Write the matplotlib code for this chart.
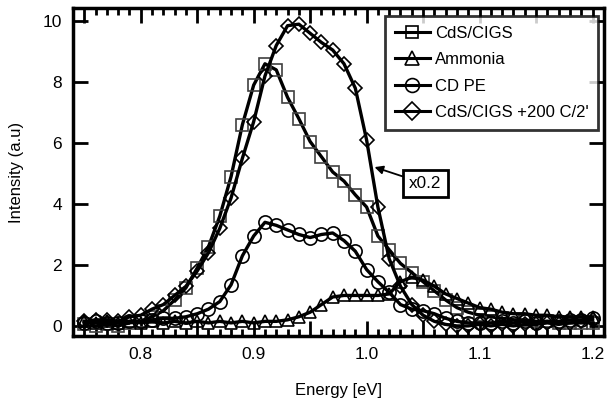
import numpy as np
import matplotlib
matplotlib.use("Agg")
import matplotlib.pyplot as plt
from matplotlib.ticker import MultipleLocator, FuncFormatter

plt.rcParams['font.family'] = ['Liberation Sans', 'DejaVu Sans']

# photon energy grid (eV)
energy = [0.75, 0.76, 0.77, 0.78, 0.79, 0.80, 0.81, 0.82, 0.83, 0.84,
          0.85, 0.86, 0.87, 0.88, 0.89, 0.90, 0.91, 0.92, 0.93, 0.94,
          0.95, 0.96, 0.97, 0.98, 0.99, 1.00, 1.01, 1.02, 1.03, 1.04,
          1.05, 1.06, 1.07, 1.08, 1.09, 1.10, 1.11, 1.12, 1.13, 1.14,
          1.15, 1.16, 1.17, 1.18, 1.19, 1.20]

cds_cigs = [0.05, 0.0, 0.05, 0.0, 0.1, 0.15, 0.3, 0.5, 0.85, 1.25,
            1.9, 2.6, 3.6, 4.9, 6.6, 7.9, 8.6, 8.4, 7.5, 6.8,
            6.05, 5.55, 5.05, 4.75, 4.3, 3.9, 2.95, 2.5, 2.05, 1.75,
            1.45, 1.15, 0.85, 0.6, 0.45, 0.35, 0.3, 0.25, 0.2, 0.2,
            0.15, 0.15, 0.1, 0.1, 0.1, 0.1]

ammonia = [0.15, 0.1, 0.15, 0.1, 0.15, 0.1, 0.15, 0.1, 0.15, 0.1,
           0.15, 0.1, 0.15, 0.1, 0.15, 0.1, 0.15, 0.15, 0.2, 0.3,
           0.45, 0.7, 0.95, 1.0, 1.0, 1.0, 1.0, 1.05, 1.45, 1.6,
           1.5, 1.3, 1.05, 0.9, 0.75, 0.6, 0.55, 0.45, 0.4, 0.4,
           0.35, 0.35, 0.3, 0.3, 0.3, 0.3]

cd_pe = [0.1, 0.15, 0.1, 0.1, 0.15, 0.15, 0.2, 0.25, 0.25, 0.3,
         0.4, 0.55, 0.8, 1.35, 2.3, 2.95, 3.4, 3.3, 3.15, 3.0,
         2.9, 3.0, 3.05, 2.8, 2.45, 1.85, 1.45, 1.1, 0.7, 0.55,
         0.5, 0.4, 0.25, 0.15, 0.1, 0.1, 0.1, 0.15, 0.1, 0.15,
         0.1, 0.15, 0.15, 0.2, 0.2, 0.25]

annealed = [0.15, 0.2, 0.2, 0.15, 0.3, 0.35, 0.55, 0.7, 1.0, 1.3,
            1.8, 2.4, 3.2, 4.2, 5.5, 6.7, 8.2, 9.2, 9.85, 9.9,
            9.6, 9.3, 9.05, 8.6, 7.8, 6.1, 3.9, 2.2, 1.3, 0.7,
            0.35, 0.15, 0.05, 0.0, 0.0, 0.05, 0.0, 0.05, 0.0, 0.05,
            0.05, 0.1, 0.05, 0.1, 0.15, 0.2]

fig = plt.figure(figsize=(6.13, 4.11), dpi=100)
ax = fig.add_axes([0.119, 0.1825, 0.866, 0.798])

lw = 2.4
ms = 8
ax.plot(energy, cds_cigs, color='black', lw=lw)
ax.plot(energy, cds_cigs, ls='none', marker='s', ms=ms, mfc='none', mec='#404040', mew=1.2)
ax.plot(energy, ammonia, color='black', lw=lw)
ax.plot(energy, ammonia, ls='none', marker='^', ms=ms + 1, mfc='none', mec='black', mew=1.2)
ax.plot(energy, cd_pe, color='black', lw=lw)
ax.plot(energy, cd_pe, ls='none', marker='o', ms=ms + 1.5, mfc='none', mec='black', mew=1.2)
ax.plot(energy, annealed, color='black', lw=lw)
ax.plot(energy, annealed, ls='none', marker='D', ms=ms - 0.5, mfc='none', mec='black', mew=1.2)

# legend handles
labels = ['CdS/CIGS', 'Ammonia', 'CD PE', "CdS/CIGS +200 C/2'"]
markers = ['s', '^', 'o', 'D']
sizes = [ms, ms + 2, ms + 2, ms + 1]
handles = [plt.Line2D([], [], color='black', lw=2.2, marker=m, ms=z, mfc='none', mec='black', mew=1.2)
           for m, z in zip(markers, sizes)]
leg = ax.legend(handles, labels, loc='upper right', bbox_to_anchor=(0.99, 0.976),
                borderaxespad=0, fontsize=12, frameon=True, fancybox=False,
                handlelength=2.1, handletextpad=0.3, labelspacing=0.68, borderpad=0.6)
leg.get_frame().set_edgecolor('black')
leg.get_frame().set_linewidth(2)

ax.annotate('x0.2', xy=(1.007, 5.21), xytext=(1.052, 4.66), fontsize=12.3,
            ha='center', va='center',
            bbox=dict(boxstyle='square,pad=0.35', fc='white', ec='black', lw=2),
            arrowprops=dict(arrowstyle='-|>', color='black', lw=1.3, shrinkA=0, shrinkB=0))

ax.set_xlim(0.74, 1.21)
ax.set_ylim(-0.33, 10.43)
ax.xaxis.set_major_locator(MultipleLocator(0.05))
ax.xaxis.set_minor_locator(MultipleLocator(0.01))
ax.xaxis.set_major_formatter(FuncFormatter(
    lambda v, p: f'{v:.1f}' if abs(round(v * 10) - v * 10) < 1e-6 else ''))
ax.yaxis.set_major_locator(MultipleLocator(2))
ax.tick_params(which='major', direction='in', length=11, width=2, top=True, right=True,
               labelsize=12.5, pad=8)
ax.tick_params(which='minor', direction='in', length=5, width=2, top=True)
for s in ax.spines.values():
    s.set_linewidth(2.5)

ax.set_xlabel('Energy [eV]', fontsize=12, labelpad=15)
ax.set_ylabel('Intensity (a.u)', fontsize=12, labelpad=13)

fig.savefig('out.png', dpi=100)
